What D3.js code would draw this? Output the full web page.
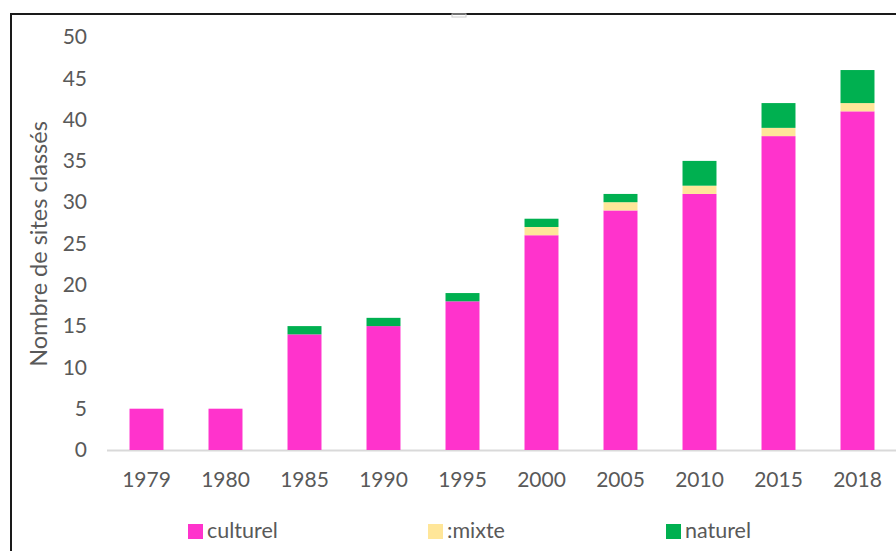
<!DOCTYPE html>
<html>
<head>
<meta charset="utf-8">
<script src="https://cdn.jsdelivr.net/npm/d3@7"></script>
<style>
  body { margin: 0; background: #fff; }
  text { font-family: Lato, "Open Sans", sans-serif; fill: #595959; }
</style>
</head>
<body>
<div id="chart"></div>
<script>
// data
var years = ["1979", "1980", "1985", "1990", "1995", "2000", "2005", "2010", "2015", "2018"];
var culturel = [5, 5, 14, 15, 18, 26, 29, 31, 38, 41];
var mixte    = [0, 0, 0, 0, 0, 1, 1, 1, 1, 1];
var naturel  = [0, 0, 1, 1, 1, 1, 1, 3, 3, 4];
var seriesNames = ["culturel", "mixte", "naturel"];
var legendLabels = ["culturel", "mixte", "naturel"];
var yTicks = [0, 5, 10, 15, 20, 25, 30, 35, 40, 45, 50];

var colors = { culturel: "#FF33CC", mixte: "#FFE699", naturel: "#00B050" };

var width = 896, height = 551;

var svg = d3.select("#chart").append("svg")
    .attr("width", width)
    .attr("height", height);

// frame of the chart object
svg.append("path")
    .attr("d", "M11,551 L11,14 L896,14")
    .attr("fill", "none")
    .attr("stroke", "#1a1a1a")
    .attr("stroke-width", 2);
svg.append("rect")
    .attr("x", 452).attr("y", 14).attr("width", 14).attr("height", 3)
    .attr("fill", "none").attr("stroke", "#ccc").attr("stroke-width", 1);

var x = d3.scaleBand()
    .domain(years)
    .range([107, 897])
    .paddingInner(0.57)
    .paddingOuter(0.285);

var y = d3.scaleLinear()
    .domain([0, 50])
    .range([450, 37]);

var table = years.map(function(yr, i) {
  return { year: yr, culturel: culturel[i], mixte: mixte[i], naturel: naturel[i] };
});
var stacked = d3.stack().keys(seriesNames)(table);

// y axis labels
var yAxis = svg.append("g")
    .attr("transform", "translate(87,0)")
    .call(d3.axisLeft(y).tickValues(yTicks).tickSize(0).tickPadding(0));
yAxis.select(".domain").remove();
yAxis.selectAll("text")
    .style("font-size", "21px")
    .attr("fill", "#595959");

// x axis
var xAxis = svg.append("g")
    .attr("transform", "translate(0," + y(0) + ")")
    .call(d3.axisBottom(x).tickSize(0).tickPadding(22));
xAxis.select(".domain")
    .attr("stroke", "#d9d9d9")
    .attr("stroke-width", 2)
    .attr("d", "M107,0.5H897");
xAxis.selectAll("text")
    .style("font-size", "21px")
    .attr("fill", "#595959");

// bars
svg.append("g").selectAll("g")
  .data(stacked)
  .join("g")
    .attr("fill", function(d) { return colors[d.key]; })
  .selectAll("rect")
  .data(function(d) { return d.filter(function(p) { return p[1] > p[0]; }); })
  .join("rect")
    .attr("x", function(d) { return x(d.data.year); })
    .attr("y", function(d) { return y(d[1]); })
    .attr("width", x.bandwidth())
    .attr("height", function(d) { return y(d[0]) - y(d[1]); });

// y title
svg.append("text")
    .attr("transform", "translate(47,244) rotate(-90)")
    .attr("text-anchor", "middle")
    .style("font-size", "23.5px")
    .text("Nombre de sites classés");

// legend
var legendX = [188, 428, 666];
var legend = svg.append("g").selectAll("g")
  .data(seriesNames)
  .join("g")
    .attr("transform", function(d, i) { return "translate(" + legendX[i] + ",524)"; });
legend.append("rect")
    .attr("width", 15).attr("height", 15)
    .attr("fill", function(d) { return colors[d]; });
legend.append("text")
    .attr("x", 19).attr("y", 14)
    .style("font-size", "21.5px")
    .text(function(d, i) { return (d === "mixte" ? ":" : "") + legendLabels[i]; });
</script>
</body>
</html>
